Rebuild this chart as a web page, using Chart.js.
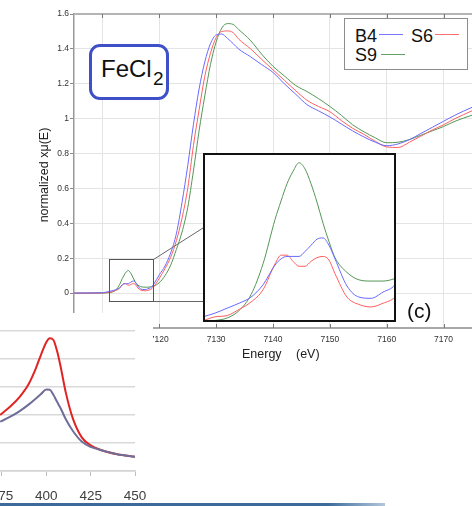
<!DOCTYPE html>
<html>
<head>
<meta charset="utf-8">
<script src="https://cdn.jsdelivr.net/npm/chart.js@4.4.1/dist/chart.umd.min.js"></script>
<style>
  body { margin:0; width:472px; height:506px; overflow:hidden; background:#fff; position:relative;
         font-family:"Liberation Sans", Arial, sans-serif; color:#111; }
  #main { position:absolute; left:0; top:0; }
  #insetWrap { position:absolute; left:203px; top:153px; width:193px; height:169px; box-sizing:border-box;
               border:2px solid #111; background:#fff; }
  #inset { display:block; }
  #bottom { position:absolute; left:0; top:313px; background:#fff; }
  #fecl { position:absolute; left:89px; top:44px; width:80px; height:56px; box-sizing:border-box;
          border:3px solid #3f4fc8; border-radius:11px; background:#fff; }
  .t { position:absolute; white-space:nowrap; }
  #legend { position:absolute; left:344px; top:18px; width:124px; height:52px; box-sizing:border-box;
            border:1.5px solid #8c8c8c; background:#fff; }
  .ln { position:absolute; height:1.5px; }
  #ytitle { position:absolute; left:-16px; top:167px; width:120px; text-align:center; font-size:12.5px;
            line-height:16px; color:#222; transform:rotate(-90deg); }
  #bar { position:absolute; left:0; top:503px; width:385px; height:3px;
         background:linear-gradient(to right, #3b6a9b 0%, #3b6a9b 85%, #b3c7dc 100%); }
</style>
</head>
<body>
<canvas id="main" width="472" height="370"></canvas>

<div id="fecl"></div>
<span class="t" style="left:101px; top:57px; font-size:24px; line-height:24px;">FeCl</span>
<span class="t" style="left:153px; top:69px; font-size:19px; line-height:19px;">2</span>

<div id="legend"></div>
<span class="t" style="left:355px; top:27px; font-size:18px; line-height:18px;">B4</span>
<span class="t" style="left:411px; top:27px; font-size:18px; line-height:18px;">S6</span>
<span class="t" style="left:355px; top:46px; font-size:18px; line-height:18px;">S9</span>
<div class="ln" style="left:379px; top:33.5px; width:24px; background:rgb(120,120,255);"></div>
<div class="ln" style="left:435px; top:33.5px; width:24px; background:rgb(255,110,110);"></div>
<div class="ln" style="left:381px; top:53.5px; width:24px; background:rgb(100,160,100);"></div>

<div id="ytitle">normalized xμ(E)</div>
<span class="t" style="left:242px; top:347.5px; font-size:12.5px; line-height:12.5px; color:#222;">Energy</span>
<span class="t" style="left:296px; top:347.5px; font-size:12.5px; line-height:12.5px; color:#222;">(eV)</span>

<div id="insetWrap"><canvas id="inset" width="189" height="165"></canvas></div>
<span class="t" style="left:407px; top:300px; font-size:21px; line-height:21px;">(c)</span>

<canvas id="bottom" width="153" height="193"></canvas>
<div id="bar"></div>

<script>
// main spectrum: energy grid (eV) and normalized absorption per sample
const energy = [7105, 7108, 7110, 7110.5, 7111, 7111.5, 7112, 7112.5, 7113, 7113.5, 7113.75, 7114, 7114.25,
  7114.5, 7114.75, 7115, 7115.25, 7115.5, 7115.75, 7116, 7116.5, 7117, 7117.5, 7118, 7118.5,
  7119, 7120, 7121, 7122, 7123, 7124, 7125, 7126, 7127, 7128, 7129, 7130, 7131, 7132, 7133, 7134,
  7136, 7138, 7140, 7142, 7144, 7146, 7148, 7150, 7152, 7154, 7156, 7158, 7160, 7162, 7164, 7166, 7168, 7170, 7172, 7175];

const b4 = [0, 0.001, 0.002, 0.005, 0.008, 0.012, 0.016, 0.021, 0.031, 0.047, 0.052, 0.054, 0.054,
  0.054, 0.058, 0.063, 0.068, 0.069, 0.063, 0.052, 0.030, 0.021, 0.020, 0.025, 0.031,
  0.05, 0.105, 0.155, 0.23, 0.34, 0.52, 0.73, 0.965, 1.17, 1.325, 1.43, 1.48, 1.485, 1.46, 1.43, 1.398,
  1.356, 1.31, 1.265, 1.20, 1.14, 1.08, 1.045, 1.01, 0.97, 0.93, 0.895, 0.865, 0.845, 0.855, 0.88, 0.915, 0.95, 0.985, 1.02, 1.065];

const s6 = [0, 0, 0.001, 0.002, 0.005, 0.006, 0.011, 0.017, 0.027, 0.048, 0.055, 0.055, 0.050,
  0.046, 0.046, 0.050, 0.053, 0.054, 0.051, 0.040, 0.021, 0.015, 0.013, 0.016, 0.021,
  0.036, 0.085, 0.14, 0.205, 0.30, 0.43, 0.60, 0.845, 1.05, 1.242, 1.375, 1.465, 1.50, 1.503, 1.493, 1.455,
  1.402, 1.34, 1.28, 1.22, 1.16, 1.105, 1.07, 1.04, 0.99, 0.945, 0.91, 0.87, 0.838, 0.835, 0.865, 0.90, 0.935, 0.965, 1.00, 1.045];

const s9 = [0, 0, 0, 0.001, 0.002, 0.004, 0.010, 0.023, 0.048, 0.084, 0.099, 0.113, 0.123,
  0.130, 0.125, 0.113, 0.098, 0.081, 0.066, 0.053, 0.041, 0.035, 0.034, 0.034, 0.036,
  0.04, 0.06, 0.10, 0.16, 0.25, 0.35, 0.49, 0.70, 0.93, 1.13, 1.31, 1.44, 1.52, 1.545, 1.54, 1.51,
  1.45, 1.37, 1.30, 1.245, 1.19, 1.155, 1.115, 1.07, 1.02, 0.965, 0.925, 0.89, 0.862, 0.865, 0.88, 0.905, 0.93, 0.955, 0.985, 1.02];

const xTicks = [7110, 7120, 7130, 7140, 7150, 7160, 7170];
const yTicks = [-0.2, 0, 0.2, 0.4, 0.6, 0.8, 1, 1.2, 1.4, 1.6];

// partial chart in the lower left corner
const blX = [374, 380, 385, 390, 394, 397, 400, 402, 404, 406, 408, 411, 415, 420, 425, 430, 440, 450];
const blRed = [2.0, 2.32, 2.65, 3.1, 3.65, 4.15, 4.6, 4.74, 4.68, 4.3, 3.75, 2.8, 1.87, 1.2, 0.92, 0.77, 0.6, 0.51];
const blPurple = [1.76, 1.95, 2.14, 2.37, 2.58, 2.75, 2.91, 2.9, 2.72, 2.48, 2.25, 1.85, 1.43, 1.05, 0.86, 0.76, 0.6, 0.51];
const blTicks = [375, 400, 425, 450];

Chart.defaults.font.family = '"Liberation Sans", Arial, sans-serif';

const colB4 = 'rgb(105,105,255)';
const colS6 = 'rgb(255,95,95)';
const colS9 = 'rgb(85,150,85)';

function series(ys, color) {
  return {
    data: energy.map((e, i) => ({ x: e, y: ys[i] })),
    borderColor: color, borderWidth: 1, pointRadius: 0, fill: false,
    cubicInterpolationMode: 'monotone'
  };
}

// zoomed region marked on the main chart (data units) and where the inset frame sits
const zoomBox = { x0: 7111.1, x1: 7118.9, y0: -0.045, y1: 0.195 };
const insetLeft = 203;

const framePlugin = {
  id: 'frame',
  afterDraw(chart) {
    const { ctx, chartArea: a, scales: { x, y } } = chart;
    ctx.save();
    ctx.strokeStyle = '#b4b4b4';
    ctx.lineWidth = 2;
    ctx.beginPath();
    ctx.moveTo(a.left, a.top);
    ctx.lineTo(a.right, a.top);
    ctx.stroke();

    ctx.strokeStyle = '#777';
    ctx.lineWidth = 1;
    xTicks.forEach(v => {
      const px = Math.round(x.getPixelForValue(v)) + 0.5;
      ctx.beginPath();
      ctx.moveTo(px, a.top); ctx.lineTo(px, a.top + 4);
      ctx.moveTo(px, a.bottom); ctx.lineTo(px, a.bottom - 4);
      ctx.stroke();
    });

    const rx0 = Math.round(x.getPixelForValue(zoomBox.x0)) + 0.5;
    const rx1 = Math.round(x.getPixelForValue(zoomBox.x1)) + 0.5;
    const ry0 = Math.round(y.getPixelForValue(zoomBox.y0)) + 0.5;
    const ry1 = Math.round(y.getPixelForValue(zoomBox.y1)) + 0.5;
    ctx.strokeStyle = '#555';
    ctx.strokeRect(rx0, ry1, rx1 - rx0, ry0 - ry1);
    ctx.strokeStyle = '#666';
    ctx.beginPath();
    ctx.moveTo(rx1, ry1); ctx.lineTo(insetLeft, 228);
    ctx.moveTo(rx1, ry0); ctx.lineTo(insetLeft, ry0);
    ctx.stroke();
    ctx.restore();
  }
};

new Chart(document.getElementById('main'), {
  type: 'line',
  data: { datasets: [series(b4, colB4), series(s6, colS6), series(s9, colS9)] },
  options: {
    responsive: false, animation: false, devicePixelRatio: 1,
    layout: { padding: { top: 14, left: 0, right: 0, bottom: 0 } },
    plugins: { legend: { display: false }, tooltip: { enabled: false } },
    scales: {
      x: {
        type: 'linear', min: 7105, max: 7175,
        afterBuildTicks: s => { s.ticks = xTicks.map(v => ({ value: v })); },
        afterFit: s => { s.height = 42; },
        grid: { color: '#e4e4e4', drawTicks: false },
        border: { color: '#a8a8a8', width: 2 },
        ticks: { padding: 7, color: '#333', font: { size: 8.5 }, maxRotation: 0, callback: v => String(v) }
      },
      y: {
        min: -0.2, max: 1.6,
        afterBuildTicks: s => { s.ticks = yTicks.map(v => ({ value: v })); },
        afterFit: s => { s.width = 74; },
        grid: { color: '#e4e4e4', tickLength: 4, tickColor: '#888' },
        border: { color: '#9a9a9a', width: 1.5 },
        ticks: { padding: 1, color: '#333', font: { size: 8.5 }, callback: v => String(Number(v.toFixed(1))) }
      }
    }
  },
  plugins: [framePlugin]
});

// inset: same spectra, pre-edge window
new Chart(document.getElementById('inset'), {
  type: 'line',
  data: { datasets: [series(b4, colB4), series(s6, colS6), series(s9, colS9)] },
  options: {
    responsive: false, animation: false, devicePixelRatio: 1,
    layout: { padding: 0 },
    plugins: { legend: { display: false }, tooltip: { enabled: false } },
    scales: {
      x: { type: 'linear', display: false, min: 7110.58, max: 7118.46 },
      y: { display: false, min: 0.0024, max: 0.1363 }
    }
  }
});

new Chart(document.getElementById('bottom'), {
  type: 'line',
  data: {
    datasets: [
      { data: blX.map((v, i) => ({ x: v, y: blPurple[i] })), borderColor: '#6e6e98', borderWidth: 2,
        pointRadius: 0, cubicInterpolationMode: 'monotone' },
      { data: blX.map((v, i) => ({ x: v, y: blRed[i] })), borderColor: '#e02424', borderWidth: 2,
        pointRadius: 0, cubicInterpolationMode: 'monotone' }
    ]
  },
  options: {
    responsive: false, animation: false, devicePixelRatio: 1,
    layout: { padding: { top: 18, right: 18, left: 0, bottom: 0 } },
    plugins: { legend: { display: false }, tooltip: { enabled: false } },
    scales: {
      x: {
        type: 'linear', min: 373.9, max: 450,
        afterBuildTicks: s => { s.ticks = blTicks.map(v => ({ value: v })); },
        afterFit: s => { s.height = 35; s.paddingLeft = 0; s.paddingRight = 0; },
        grid: { drawOnChartArea: false, tickLength: 5, tickColor: '#bdbdbd' },
        border: { color: '#d4d4d4', width: 1.5 },
        ticks: { padding: 12, color: '#404040', font: { size: 13.5 }, maxRotation: 0, callback: v => String(v) }
      },
      y: {
        display: true, min: 0, max: 5,
        afterFit: s => { s.width = 0; },
        ticks: { stepSize: 1, display: false },
        grid: { color: '#d9d9d9', lineWidth: 1.5, drawTicks: false },
        border: { display: false }
      }
    }
  }
});
</script>
</body>
</html>
